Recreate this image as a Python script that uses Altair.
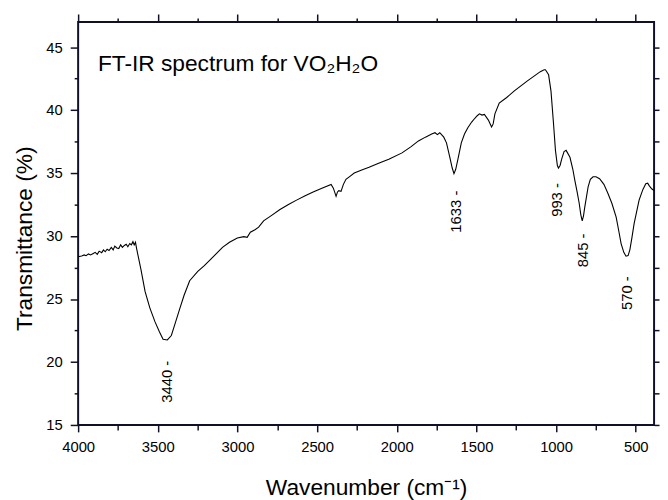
import altair as alt
import pandas as pd

# ---- data ----
wavenumber = [
    4000, 3978, 3962, 3950, 3935, 3922, 3905, 3893, 3880, 3868, 3852, 3841, 3830,
    3818, 3806, 3792, 3780, 3770, 3757, 3745, 3733, 3722, 3710, 3698, 3688,
    3676, 3666, 3656, 3648, 3640, 3633, 3605, 3580, 3550, 3518, 3490, 3467, 3440, 3415, 3390,
    3363, 3335, 3300, 3249, 3208, 3156, 3094, 3050, 3001, 2960, 2939, 2919,
    2890, 2867, 2836, 2790, 2733, 2680, 2629, 2575, 2525, 2470, 2412, 2398,
    2381, 2372, 2364, 2350, 2335, 2319, 2298, 2267, 2220, 2174, 2110, 2050,
    1967, 1910, 1864, 1820, 1781, 1760, 1745, 1730, 1719, 1705, 1688, 1668,
    1652, 1641, 1630, 1616, 1595, 1575, 1554, 1530, 1510, 1495, 1481, 1465,
    1450, 1425, 1405, 1395, 1384, 1357, 1310, 1264, 1182, 1099, 1075, 1067,
    1047, 1032, 1016, 1004, 992, 985, 975, 965, 950, 937, 913, 895, 882, 868,
    855, 845, 836, 828, 820, 799, 785, 768, 750, 727, 700, 675, 650, 623,
    605, 592, 575, 561, 548, 537, 525, 510, 479, 455, 437, 425, 416, 400, 385,
]
transmittance = [
    28.35, 28.42, 28.5, 28.44, 28.58, 28.5, 28.62, 28.7, 28.55, 28.8, 28.68, 28.9, 28.75,
    28.95, 28.85, 29.1, 28.9, 29.2, 29.05, 29.0, 29.3, 29.1, 29.25, 29.35, 29.15,
    29.4, 29.3, 29.55, 29.3, 29.5, 29.0, 27.3, 25.6, 24.3, 23.2, 22.4, 21.8, 21.75, 22.1, 23.1,
    24.2, 25.3, 26.45, 27.2, 27.65, 28.3, 29.1, 29.5, 29.85, 29.95, 29.9, 30.3,
    30.5, 30.7, 31.2, 31.6, 32.1, 32.5, 32.85, 33.2, 33.5, 33.8, 34.1, 33.8,
    33.15, 33.5, 33.6, 33.55, 34.1, 34.5, 34.7, 35.0, 35.25, 35.46, 35.8, 36.1,
    36.6, 37.1, 37.55, 37.85, 38.1, 38.2, 38.05, 38.2, 38.05, 37.85, 37.4, 36.3,
    35.4, 34.95, 35.3, 36.1, 37.4, 38.1, 38.6, 39.05, 39.35, 39.55, 39.7, 39.6,
    39.65, 39.2, 38.65, 38.9, 39.7, 40.55, 41.0, 41.5, 42.3, 43.05, 43.2, 43.2,
    42.8, 41.5, 38.9, 36.8, 35.6, 35.4, 35.6, 36.1, 36.7, 36.8, 36.25, 35.3, 34.4, 33.5,
    32.6, 31.7, 31.2, 31.6, 32.3, 33.9, 34.5, 34.7, 34.7, 34.55, 34.1, 33.4, 32.6, 31.5,
    30.3, 29.4, 28.7, 28.4, 28.45, 28.9, 29.8, 31.0, 32.85, 33.7, 34.15, 34.2, 34.0, 33.75, 33.6,
]

peak_labels = ["3440 -", "1633 -", "993 -", "845 -", "570 -"]
peak_label_x = [3441, 1626, 994, 830, 553]
peak_label_y = [20.1, 33.6, 34.2, 30.2, 26.8]

title_text = ["FT-IR spectrum for VO\u2082H\u2082O"]
title_x = [3876]
title_y = [43.1]

x_major = [4000, 3500, 3000, 2500, 2000, 1500, 1000, 500]
x_minor = [3750, 3250, 2750, 2250, 1750, 1250, 750]
y_major = [15, 20, 25, 30, 35, 40, 45]
y_minor = [17.5, 22.5, 27.5, 32.5, 37.5, 42.5]
y_all = sorted(y_major + y_minor)

X_DOMAIN = [385, 4000]
Y_DOMAIN = [15, 47]
FONT = "Liberation Sans"
INK = "#101028"
W, H = 583, 408

spec = pd.DataFrame({"wn": wavenumber, "T": transmittance})
peaks = pd.DataFrame({"wn": peak_label_x, "T": peak_label_y, "label": peak_labels})
ttl = pd.DataFrame({"wn": title_x, "T": title_y, "label": title_text})

XS = alt.Scale(domain=X_DOMAIN, reverse=True, nice=False, zero=False)
YS = alt.Scale(domain=Y_DOMAIN, nice=False, zero=False)

common_axis = dict(
    domain=False, grid=False, tickColor=INK, tickWidth=1.5,
    labelFont=FONT, labelFontSize=15, labelColor="black",
    titleFont=FONT, titleFontSize=23, titleFontWeight="normal", titleColor="black",
)

main = alt.Chart(spec).mark_line(color="black", strokeWidth=1.1).encode(
    x=alt.X("wn:Q", scale=XS, axis=alt.Axis(
        orient="bottom", values=x_major, tickSize=7, labelPadding=8, format="d",
        title="Wavenumber (cm\u207b\u00b9)", titleBaseline="alphabetic", titleY=70,
        labelFlush=False, labelOverlap=False, **common_axis)),
    y=alt.Y("T:Q", scale=YS, axis=alt.Axis(
        orient="left", values=y_major, tickSize=8, labelPadding=8, format="d",
        title="Transmittance (%)", titleBaseline="alphabetic", titleX=-47, titleY=219,
        titleAngle=270, labelFlush=False, labelOverlap=False, **common_axis)),
)

minor_bl = alt.Chart(spec).mark_line(strokeOpacity=0).encode(
    x=alt.X("wn:Q", axis=alt.Axis(
        orient="bottom", values=x_minor, tickSize=5, labels=False,
        title=None, **common_axis)),
    y=alt.Y("T:Q", axis=alt.Axis(
        orient="left", values=y_minor, tickSize=4, labels=False,
        title=None, **common_axis)),
)

top_right = alt.Chart(spec).mark_line(strokeOpacity=0).encode(
    x=alt.X("wn:Q", axis=alt.Axis(
        orient="top", values=x_major, tickSize=8, labels=False,
        title=None, **common_axis)),
    y=alt.Y("T:Q", axis=alt.Axis(
        orient="right", values=y_all, tickSize=5, labels=False,
        title=None, **common_axis)),
)

top_minor = alt.Chart(spec).mark_line(strokeOpacity=0).encode(
    x=alt.X("wn:Q", axis=alt.Axis(
        orient="top", values=x_minor, tickSize=4, labels=False,
        title=None, **common_axis)),
    y=alt.Y("T:Q", axis=None),
)

peak_text = alt.Chart(peaks).mark_text(
    angle=270, align="right", baseline="middle", font=FONT, fontSize=15, color="black"
).encode(
    x=alt.X("wn:Q", axis=None),
    y=alt.Y("T:Q", axis=None),
    text="label:N",
)

title_mark = alt.Chart(ttl).mark_text(
    align="left", baseline="alphabetic", font=FONT, fontSize=23, color="black"
).encode(
    x=alt.X("wn:Q", axis=None),
    y=alt.Y("T:Q", axis=None),
    text="label:N",
)

chart = alt.layer(main, minor_bl, top_right, top_minor, peak_text, title_mark).resolve_axis(
    x="independent", y="independent"
).properties(
    width=W, height=H,
    autosize=alt.AutoSizeParams(type="none"),
    padding={"left": 71, "top": 11, "right": 6, "bottom": 81},
).configure_view(stroke=INK, strokeWidth=2)

chart.save("out.html", embed_options={"renderer": "svg", "actions": False})
